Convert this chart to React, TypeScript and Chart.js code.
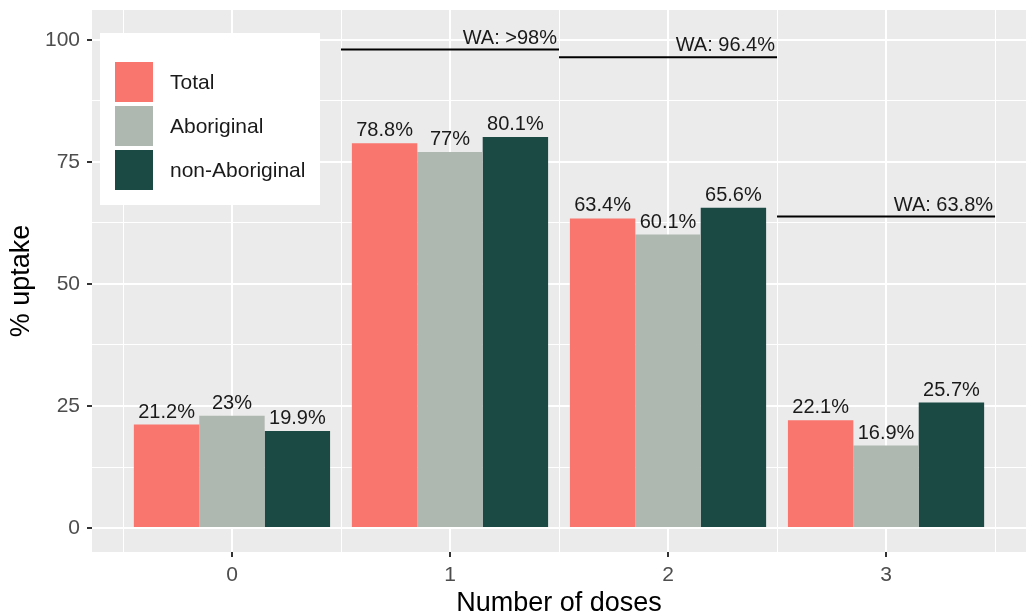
import React, { useEffect, useRef } from 'react';
import { Chart, registerables } from 'chart.js';

Chart.register(...registerables);

// ---- data ----
const doses = [0, 1, 2, 3];
const seriesNames = ['Total', 'Aboriginal', 'non-Aboriginal'];
const totalUptake = [21.2, 78.8, 63.4, 22.1];
const aboriginalUptake = [23, 77, 60.1, 16.9];
const nonAboriginalUptake = [19.9, 80.1, 65.6, 25.7];
const waStart = [0.5, 1.5, 2.5];
const waEnd = [1.5, 2.5, 3.5];
const waValue = [98, 96.4, 63.8];
const waLabels = ['WA: >98%', 'WA: 96.4%', 'WA: 63.8%'];
const yTickLabels = [0, 25, 50, 75, 100];
const xTitle = 'Number of doses';
const yTitle = '% uptake';

// ---- styles ----
const seriesColors = ['#F8766D', '#AFB7B1', '#1B4A45'];
const FONT = '"Liberation Sans", Arial, Helvetica, sans-serif';
const seriesValues = [totalUptake, aboriginalUptake, nonAboriginalUptake];

const panelPlugin = {
  id: 'ggPanel',
  beforeDraw(chart: any) {
    const { ctx, chartArea: a } = chart;
    ctx.save();
    ctx.fillStyle = '#EBEBEB';
    ctx.fillRect(a.left, a.top, a.right - a.left, a.bottom - a.top);
    ctx.restore();
  },
  beforeDatasetsDraw(chart: any) {
    const { ctx, chartArea: a } = chart;
    const xs = chart.scales.x;
    const minors = doses.map((d) => d - 0.5).concat([doses[doses.length - 1] + 0.5]);
    ctx.save();
    ctx.strokeStyle = '#FFFFFF';
    ctx.lineWidth = 1;
    minors.forEach((v) => {
      const px = Math.round(xs.getPixelForValue(v)) + 0.5;
      ctx.beginPath();
      ctx.moveTo(px, a.top);
      ctx.lineTo(px, a.bottom);
      ctx.stroke();
    });
    ctx.restore();
  },
  afterDatasetsDraw(chart: any) {
    const { ctx } = chart;
    const xs = chart.scales.x;
    const ys = chart.scales.y;
    ctx.save();
    ctx.font = `20px ${FONT}`;
    ctx.fillStyle = '#1A1A1A';
    ctx.textBaseline = 'alphabetic';
    ctx.textAlign = 'center';
    seriesValues.forEach((vals, i) => {
      const meta = chart.getDatasetMeta(i);
      meta.data.forEach((el: any, j: number) => {
        ctx.fillText(`${vals[j]}%`, el.x, el.y - 7);
      });
    });
    ctx.textAlign = 'right';
    waLabels.forEach((lab, k) => {
      const px = xs.getPixelForValue(waEnd[k]) - 2;
      const py = ys.getPixelForValue(waValue[k]) - 6;
      ctx.fillText(lab, px, py);
    });
    ctx.restore();
  },
  afterDraw(chart: any) {
    const { ctx } = chart;
    const box = { x: 100, y: 33, w: 220, h: 172 };
    ctx.save();
    ctx.fillStyle = '#FFFFFF';
    ctx.fillRect(box.x, box.y, box.w, box.h);
    ctx.font = `21px ${FONT}`;
    ctx.textBaseline = 'middle';
    ctx.textAlign = 'left';
    const bars = chart.data.datasets.filter((d: any) => d.type !== 'line');
    bars.forEach((ds: any, i: number) => {
      const ky = box.y + 29 + i * 44;
      ctx.fillStyle = ds.backgroundColor;
      ctx.fillRect(box.x + 15, ky, 38, 40);
      ctx.fillStyle = '#1A1A1A';
      ctx.fillText(ds.label, box.x + 70, ky + 21);
    });
    ctx.restore();
  },
};

export default function App() {
  const ref = useRef<HTMLCanvasElement | null>(null);

  useEffect(() => {
    if (!ref.current) return;
    const barSets = seriesNames.map((name, i) => ({
      type: 'bar' as const,
      label: name,
      data: doses.map((d, j) => ({ x: d, y: seriesValues[i][j] })),
      backgroundColor: seriesColors[i],
      borderWidth: 0,
      barPercentage: 1,
      categoryPercentage: 0.9,
    }));
    const lineSets = waLabels.map((lab, k) => ({
      type: 'line' as const,
      label: lab,
      data: [
        { x: waStart[k], y: waValue[k] },
        { x: waEnd[k], y: waValue[k] },
      ],
      borderColor: '#000000',
      borderWidth: 2,
      pointRadius: 0,
      fill: false,
    }));

    const chart = new Chart(ref.current, {
      type: 'bar',
      data: { datasets: [...barSets, ...lineSets] as any },
      options: {
        responsive: false,
        animation: false,
        layout: { padding: { top: 10, right: 0, left: 0, bottom: 0 } },
        plugins: { legend: { display: false }, tooltip: { enabled: false } },
        scales: {
          x: {
            type: 'linear',
            min: -0.642,
            max: 3.642,
            offset: false,
            border: { display: false },
            grid: {
              offset: false,
              color: '#FFFFFF',
              lineWidth: 2,
              tickColor: '#333333',
              tickLength: 5,
              tickWidth: 2,
            },
            ticks: {
              stepSize: 1,
              includeBounds: false,
              autoSkip: false,
              maxRotation: 0,
              padding: 6,
              color: '#4D4D4D',
              font: { family: FONT, size: 21 },
            },
            title: {
              display: true,
              text: xTitle,
              color: '#000000',
              font: { family: FONT, size: 27, lineHeight: 0.92 },
              padding: { top: 0, bottom: 0 },
            },
            afterFit: (s: any) => {
              s.height = 64;
              s.paddingLeft = 0;
              s.paddingRight = 0;
            },
          },
          y: {
            type: 'linear',
            min: -4.9,
            max: 106.1,
            border: { display: false },
            grid: {
              color: '#FFFFFF',
              lineWidth: (c: any) => (c.tick && yTickLabels.includes(c.tick.value) ? 2 : 1),
              tickColor: (c: any) =>
                c.tick && yTickLabels.includes(c.tick.value) ? '#333333' : 'rgba(0,0,0,0)',
              tickLength: 5,
              tickWidth: 2,
            },
            ticks: {
              stepSize: 12.5,
              includeBounds: false,
              autoSkip: false,
              padding: 7,
              color: '#4D4D4D',
              font: { family: FONT, size: 21 },
              callback: (v: any) => (yTickLabels.includes(Number(v)) ? String(v) : ''),
            },
            title: {
              display: true,
              text: yTitle,
              color: '#000000',
              font: { family: FONT, size: 27, lineHeight: 0.92 },
              padding: { top: 9, bottom: 0 },
            },
            afterFit: (s: any) => {
              s.width = 92;
              s.paddingTop = 0;
              s.paddingBottom = 0;
            },
          },
        },
      },
      plugins: [panelPlugin],
    });
    return () => chart.destroy();
  }, []);

  return (
    <div style={{ position: 'fixed', left: 0, top: 0, width: 1026, height: 616, background: '#FFFFFF' }}>
      <canvas ref={ref} width={1026} height={616} style={{ display: 'block' }} />
    </div>
  );
}
